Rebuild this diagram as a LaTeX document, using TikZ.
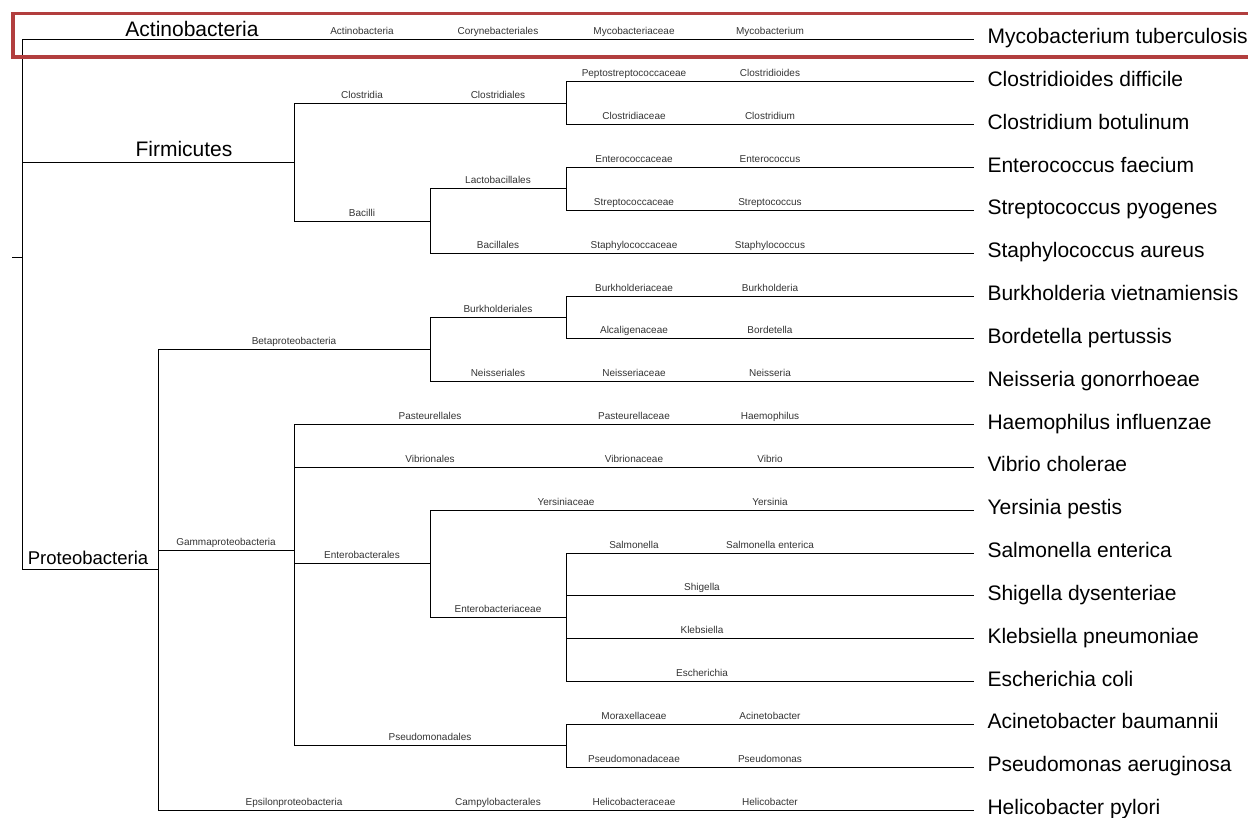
\documentclass[tikz,border=0pt]{standalone}
\usepackage{fontspec}
\setmainfont{Liberation Sans}
\usepackage{tikz}
\usetikzlibrary{calc}
\usetikzlibrary{positioning}

\definecolor{boxred}{RGB}{178,62,62}

\begin{document}
\begin{tikzpicture}[x=1pt,y=-1pt,line width=1pt,
      rank/.style={font=\fontsize{10}{12}\selectfont,text=black!80,anchor=base,inner sep=0pt,yshift=5pt},
      phylum/.style={font=\fontsize{21}{25}\selectfont,anchor=base,inner sep=0pt},
      species/.style={font=\fontsize{21}{25}\selectfont,anchor=base west,inner sep=0pt,yshift=-4.5pt}]
      \useasboundingbox (0,0) rectangle (1248,817);
      \foreach \name/\txt [count=\i from 0] in {myco/Mycobacterium tuberculosis,
          cdif/Clostridioides difficile,cbot/Clostridium botulinum,efae/Enterococcus faecium,
          spyo/Streptococcus pyogenes,saur/Staphylococcus aureus,bvie/Burkholderia vietnamiensis,
          bper/Bordetella pertussis,ngon/Neisseria gonorrhoeae,hinf/Haemophilus influenzae,
          vcho/Vibrio cholerae,ypes/Yersinia pestis,sent/Salmonella enterica,
          sdys/Shigella dysenteriae,kpne/Klebsiella pneumoniae,ecol/Escherichia coli,
          abau/Acinetobacter baumannii,paer/Pseudomonas aeruginosa,hpyl/Helicobacter pylori}{
        \coordinate (\name) at (974,{39+42.833*\i});
        \node[species] (\name-txt) at (987,{39+42.833*\i}) {\txt};
      }
      \coordinate (stub) at (12,257);
      \coordinate (root) at (22,257);
      \coordinate (firm) at (294,162.1);
      \coordinate (clos) at (566,103.2);
      \coordinate (baci) at (430,221);
      \coordinate (lact) at (566,188.9);
      \coordinate (prot) at (158,569.9);
      \coordinate (beta) at (430,349.5);
      \coordinate (burk) at (566,317.4);
      \coordinate (gamm) at (294,550.3);
      \coordinate (entb) at (430,563.7);
      \coordinate (entc) at (566,617.2);
      \coordinate (pseu) at (566,745.7);
      \draw (stub) -- (root);
      \foreach \a/\b in {root/myco,root/firm,root/prot,firm/clos,firm/baci,clos/cdif,clos/cbot,
          baci/lact,baci/saur,lact/efae,lact/spyo,prot/beta,prot/gamm,prot/hpyl,beta/burk,
          beta/ngon,burk/bvie,burk/bper,gamm/hinf,gamm/vcho,gamm/entb,gamm/pseu,entb/ypes,
          entb/entc,entc/sent,entc/sdys,entc/kpne,entc/ecol,pseu/abau,pseu/paer}
        \draw (\a) |- (\b);
      \foreach \x/\row/\txt [count=\j] in {362/myco/Actinobacteria,498/myco/Corynebacteriales,
          634/myco/Mycobacteriaceae,770/myco/Mycobacterium,
          362/clos/Clostridia,498/clos/Clostridiales,
          634/cdif/Peptostreptococcaceae,770/cdif/Clostridioides,
          634/cbot/Clostridiaceae,770/cbot/Clostridium,
          362/baci/Bacilli,498/lact/Lactobacillales,
          634/efae/Enterococcaceae,770/efae/Enterococcus,
          634/spyo/Streptococcaceae,770/spyo/Streptococcus,
          498/saur/Bacillales,634/saur/Staphylococcaceae,770/saur/Staphylococcus,
          294/beta/Betaproteobacteria,498/burk/Burkholderiales,
          634/bvie/Burkholderiaceae,770/bvie/Burkholderia,
          634/bper/Alcaligenaceae,770/bper/Bordetella,
          498/ngon/Neisseriales,634/ngon/Neisseriaceae,770/ngon/Neisseria,
          226/gamm/Gammaproteobacteria,
          430/hinf/Pasteurellales,634/hinf/Pasteurellaceae,770/hinf/Haemophilus,
          430/vcho/Vibrionales,634/vcho/Vibrionaceae,770/vcho/Vibrio,
          362/entb/Enterobacterales,
          566/ypes/Yersiniaceae,770/ypes/Yersinia,
          498/entc/Enterobacteriaceae,
          634/sent/Salmonella,770/sent/Salmonella enterica,
          702/sdys/Shigella,702/kpne/Klebsiella,702/ecol/Escherichia,
          430/pseu/Pseudomonadales,
          634/abau/Moraxellaceae,770/abau/Acinetobacter,
          634/paer/Pseudomonadaceae,770/paer/Pseudomonas,
          294/hpyl/Epsilonproteobacteria,498/hpyl/Campylobacterales,
          634/hpyl/Helicobacteraceae,770/hpyl/Helicobacter}
        \node[rank] (rank\j) at (\x,0 |- \row) {\txt};
      \node[phylum,yshift=3pt] (actino) at (192,0 |- myco) {Actinobacteria};
      \node[phylum,yshift=5.5pt] (firmi) at (184,0 |- firm) {Firmicutes};
      \node[phylum,yshift=5pt,font=\fontsize{18.5}{22}\selectfont] (proteo) at (88,0 |- prot) {Proteobacteria};
      \draw[boxred,line width=3.6pt] (13,13.5) rectangle (1264,57);
    \end{tikzpicture}
\end{document}
